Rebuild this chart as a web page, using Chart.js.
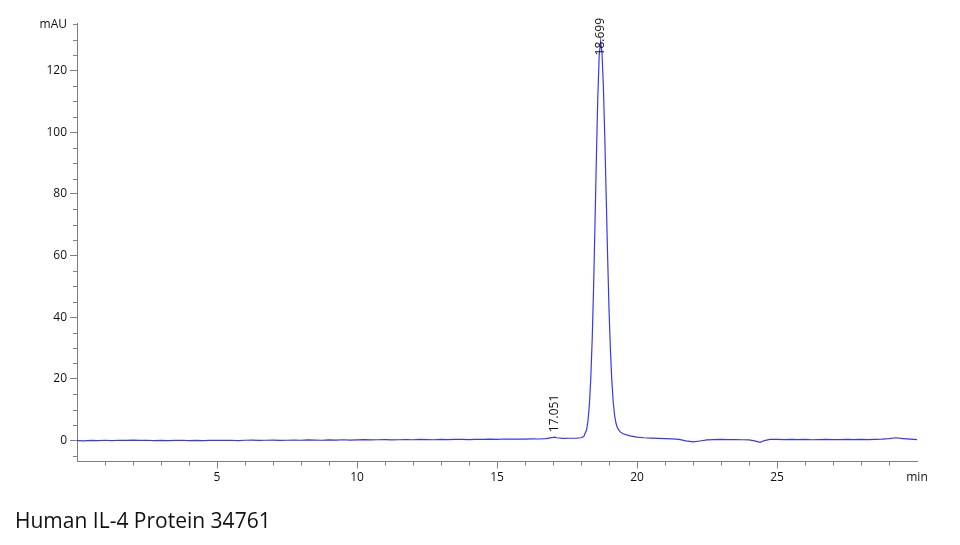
<!DOCTYPE html>
<html>
<head>
<meta charset="utf-8">
<script src="https://cdn.jsdelivr.net/npm/chart.js@4.4.1/dist/chart.umd.min.js"></script>
<style>
  body { margin: 0; background: #fff; }
  #wrap { position: relative; width: 960px; height: 545px; }
  #caption {
    position: absolute; left: 15px; top: 506px;
    font-family: 'Open Sans', sans-serif; font-size: 21px; color: #111;
  }
</style>
</head>
<body>
<div id="wrap">
  <canvas id="chromatogram"></canvas>
  <div id="caption">Human IL-4 Protein 34761</div>
</div>
<script>
// retention time (min)
var retention = [
    0, 0.25, 0.5, 0.75, 1, 1.25, 1.5, 1.75, 2, 2.25, 2.5, 2.75, 3, 3.25, 3.5, 3.75,
    4, 4.25, 4.5, 4.75, 5, 5.25, 5.5, 5.75, 6, 6.25, 6.5, 6.75, 7, 7.25, 7.5, 7.75,
    8, 8.25, 8.5, 8.75, 9, 9.25, 9.5, 9.75, 10, 10.25, 10.5, 10.75, 11, 11.25, 11.5, 11.75,
    12, 12.25, 12.5, 12.75, 13, 13.25, 13.5, 13.75, 14, 14.25, 14.5, 14.75, 15, 15.25, 15.5, 15.75,
    16, 16.25, 16.5, 16.75,
    17.0, 17.05, 17.15, 17.35, 17.6, 17.85, 18.0, 18.1, 18.2, 18.25, 18.3, 18.35, 18.4, 18.45,
    18.5, 18.55, 18.6, 18.65, 18.7, 18.75, 18.8, 18.85, 18.9, 18.95, 19.0, 19.05, 19.1, 19.15,
    19.2, 19.25, 19.3, 19.4, 19.5, 19.75,
    20, 20.25, 20.5, 20.75, 21, 21.25, 21.5, 21.75, 22, 22.25, 22.5, 22.75, 23, 23.25, 23.5, 23.75,
    24, 24.2, 24.4, 24.55, 24.75, 25, 25.25, 25.5, 25.75, 26, 26.25, 26.5, 26.75, 27, 27.25, 27.5, 27.75,
    28, 28.25, 28.5, 28.75, 29, 29.25, 29.5, 29.75, 30
];

// detector signal (mAU)
var absorbance = [
    0.0, -0.1, 0.05, -0.05, 0.1, 0.0, 0.1, 0.05, 0.15, 0.05, 0.1, 0.0, 0.05, -0.05, 0.05, 0.1,
    0.0, 0.05, -0.05, 0.05, 0.1, 0.05, 0.1, 0.0, 0.1, 0.15, 0.05, 0.1, 0.15, 0.05, 0.1, 0.15,
    0.1, 0.2, 0.15, 0.1, 0.2, 0.15, 0.25, 0.15, 0.2, 0.3, 0.2, 0.25, 0.3, 0.2, 0.25, 0.3,
    0.25, 0.35, 0.3, 0.25, 0.35, 0.3, 0.4, 0.35, 0.3, 0.4, 0.35, 0.45, 0.4, 0.5, 0.45, 0.5,
    0.45, 0.55, 0.5, 0.6,
    1.0, 1.1, 0.9, 0.7, 0.75, 0.8, 0.9, 1.3, 3.5, 6.5, 11.8, 20.3, 32.9, 49.9,
    70.3, 92.0, 111.4, 124.9, 129.5, 125.8, 114.6, 98.2, 79.1, 60.0, 42.8, 29.5, 19.6, 12.6,
    8.2, 5.6, 4.1, 2.8, 2.2, 1.5,
    1.1, 0.9, 0.8, 0.7, 0.65, 0.55, 0.35, -0.1, -0.45, -0.15, 0.2, 0.3, 0.35, 0.3, 0.3, 0.25,
    0.2, -0.1, -0.6, 0.0, 0.35, 0.35, 0.3, 0.35, 0.3, 0.35, 0.25, 0.3, 0.35, 0.3, 0.3, 0.35, 0.3,
    0.35, 0.3, 0.4, 0.45, 0.6, 0.9, 0.65, 0.45, 0.3
];

// labelled peaks
var peakTimes = [17.051, 18.699];
var peakNames = ['17.051', '18.699'];

// axis ticks
var xMajorTicks = [5, 10, 15, 20, 25];
var xUnitLabel = 'min';
var yMajorTicks = [0, 20, 40, 60, 80, 100, 120];
var yUnitLabel = 'mAU';

var axisGray = '#7f7f7f';
var tickFont = { family: "'Open Sans', sans-serif", size: 12 };

var points = retention.map(function (t, i) { return { x: t, y: absorbance[i] }; });

// minor ticks + rotated peak labels
var extras = {
    id: 'extras',
    afterDraw: function (chart) {
        var ctx = chart.ctx;
        var x = chart.scales.x, y = chart.scales.y;
        var area = chart.chartArea;
        ctx.save();
        ctx.strokeStyle = axisGray;
        ctx.lineWidth = 1;
        ctx.beginPath();
        y.ticks.forEach(function (t) {
            if (yMajorTicks.indexOf(t.value) < 0) {
                var py = Math.round(y.getPixelForValue(t.value)) + 0.5;
                ctx.moveTo(area.left - 4, py);
                ctx.lineTo(area.left, py);
            }
        });
        x.ticks.forEach(function (t) {
            if (xMajorTicks.indexOf(t.value) < 0 && t.value > 0 && t.value < 30) {
                var px = Math.round(x.getPixelForValue(t.value)) + 0.5;
                ctx.moveTo(px, area.bottom);
                ctx.lineTo(px, area.bottom + 4);
            }
        });
        ctx.stroke();

        ctx.fillStyle = '#111';
        ctx.font = "12px 'Open Sans', sans-serif";
        ctx.textAlign = 'left';
        ctx.textBaseline = 'middle';
        peakTimes.forEach(function (pt, k) {
            // signal at the nearest sample
            var best = 0;
            retention.forEach(function (t, i) {
                if (Math.abs(t - pt) < Math.abs(retention[best] - pt)) best = i;
            });
            var px = x.getPixelForValue(pt);
            var py = y.getPixelForValue(absorbance[best]);
            var w = ctx.measureText(peakNames[k]).width;
            var start = py - 5;
            if (start - w < 18) start = 18 + w;
            ctx.save();
            ctx.translate(px, start);
            ctx.rotate(-Math.PI / 2);
            ctx.fillText(peakNames[k], 0, 0);
            ctx.restore();
        });
        ctx.restore();
    }
};

var chromChart = new Chart(document.getElementById('chromatogram'), {
    type: 'scatter',
    data: {
        datasets: [{
            data: points,
            showLine: true,
            borderColor: 'rgb(55, 55, 245)',
            borderWidth: 1.2,
            pointRadius: 0,
            tension: 0
        }]
    },
    options: {
        responsive: true,
        maintainAspectRatio: false,
        animation: false,
        layout: {
            padding: { left: 0, top: 23.5, right: 43, bottom: 0 }
        },
        plugins: {
            legend: { display: false },
            tooltip: { enabled: false }
        },
        scales: {
            x: {
                type: 'linear',
                min: 0,
                max: 30,
                afterFit: function (scale) { scale.height = 83.5; },
                border: { display: true, color: axisGray, width: 1 },
                grid: {
                    drawOnChartArea: false,
                    tickLength: 7,
                    tickColor: function (c) {
                        return xMajorTicks.indexOf(c.tick.value) >= 0 ? axisGray : 'rgba(0,0,0,0)';
                    }
                },
                ticks: {
                    stepSize: 1,
                    autoSkip: false,
                    maxRotation: 0,
                    padding: 2,
                    color: '#111',
                    font: tickFont,
                    callback: function (v) {
                        if (xMajorTicks.indexOf(v) >= 0) return String(v);
                        if (v === 30) return xUnitLabel;
                        return '';
                    }
                }
            },
            y: {
                type: 'linear',
                min: -6.8,
                max: 135.3,
                afterFit: function (scale) { scale.width = 77; },
                border: { display: true, color: axisGray, width: 1 },
                grid: {
                    drawOnChartArea: false,
                    tickLength: 7,
                    tickColor: function (c) {
                        return yMajorTicks.indexOf(c.tick.value) >= 0 ? axisGray : 'rgba(0,0,0,0)';
                    }
                },
                ticks: {
                    stepSize: 5,
                    includeBounds: false,
                    autoSkip: false,
                    padding: 3,
                    color: '#111',
                    font: tickFont,
                    callback: function (v) {
                        if (yMajorTicks.indexOf(v) >= 0) return String(v);
                        if (v === 135) return yUnitLabel;
                        return '';
                    }
                }
            }
        }
    },
    plugins: [extras]
});
</script>
</body>
</html>
